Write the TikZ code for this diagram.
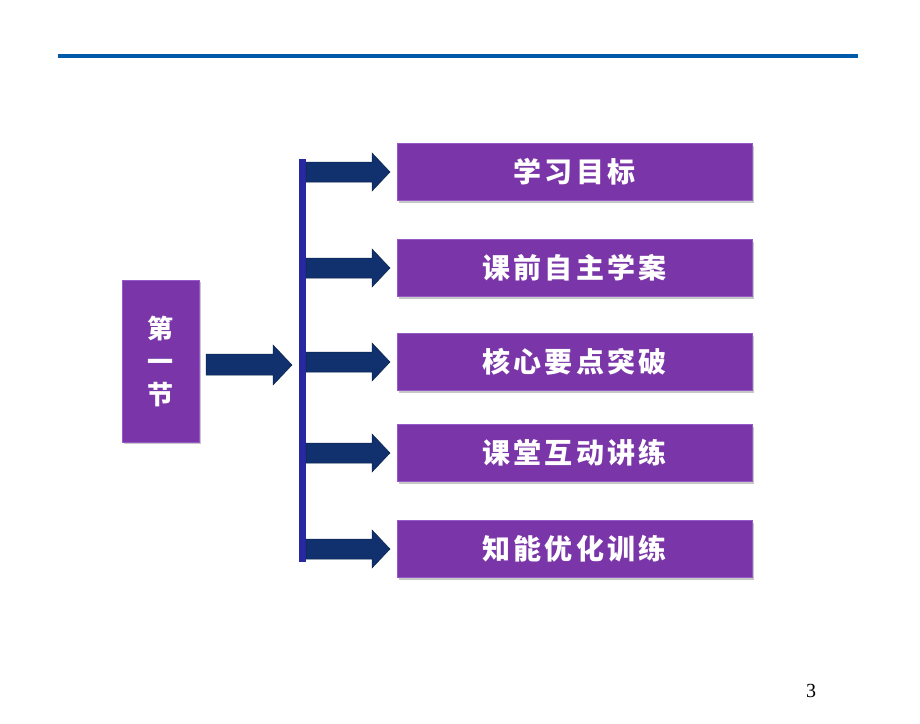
\documentclass[tikz,border=0pt]{standalone}
\usepackage{fontspec}
\newfontfamily\cjk{Noto Sans CJK SC}
\newfontfamily\cjkwide{Noto Sans CJK SC}[LetterSpace=12]
\setmainfont{Liberation Serif}
\definecolor{topline}{RGB}{0,90,170}
\definecolor{boxpurple}{RGB}{122,54,168}
\definecolor{boxedge}{RGB}{150,90,200}
\definecolor{arrownavy}{RGB}{16,48,110}
\definecolor{barblue}{RGB}{40,40,160}
\tikzset{
  pbox/.style={fill=boxpurple, draw=boxedge, line width=0.8pt, text=white, font=\cjkwide\bfseries\fontsize{28}{30}\selectfont, inner sep=0pt},
  shad/.style={fill=black!22},
  fatarrow/.style={fill=arrownavy, draw=arrownavy!70!black, line width=0.5pt}
}
\begin{document}
\begin{tikzpicture}[x=1pt,y=-1pt]
\useasboundingbox (0,0) rectangle (920,723);
\fill[white] (0,0) rectangle (920,723);
% top line
\fill[topline] (58,54) rectangle (858,58);
% left box
\fill[shad] (124,282) rectangle (201,444);
\node[pbox, minimum width=77pt, minimum height=162pt, anchor=north west, font=\cjk\bfseries\fontsize{26}{33}\selectfont, align=center] (sec) at (122,280) {第\\一\\节};
% vertical bar
\fill[barblue] (299,159) rectangle (306,562);
\coordinate (bar) at (299,365);
% main arrow
\filldraw[fatarrow] (206,354) -- (273,354) -- (273,345) -- (292,365) -- (273,385) -- (273,375) -- (206,375) -- cycle;
% branch arrows and boxes
\foreach \yc/\name/\txt in {172/b1/学习目标, 268/b2/课前自主学案, 362/b3/核心要点突破, 453/b4/课堂互动讲练, 549/b5/知能优化训练}{
  \filldraw[fatarrow] (306,\yc-10) -- (372,\yc-10) -- (372,\yc-19) -- (390,\yc) -- (372,\yc+19) -- (372,\yc+10) -- (306,\yc+10) -- cycle;
  \fill[shad] (399,\yc-26.5) rectangle (754,\yc+30.5);
  \node[pbox, minimum width=355pt, minimum height=57pt] (\name) at (574.5,\yc) {\txt};
}
% page number
\node[font=\fontsize{20}{22}\selectfont] (pg) at (811,691) {3};
\end{tikzpicture}
\end{document}
